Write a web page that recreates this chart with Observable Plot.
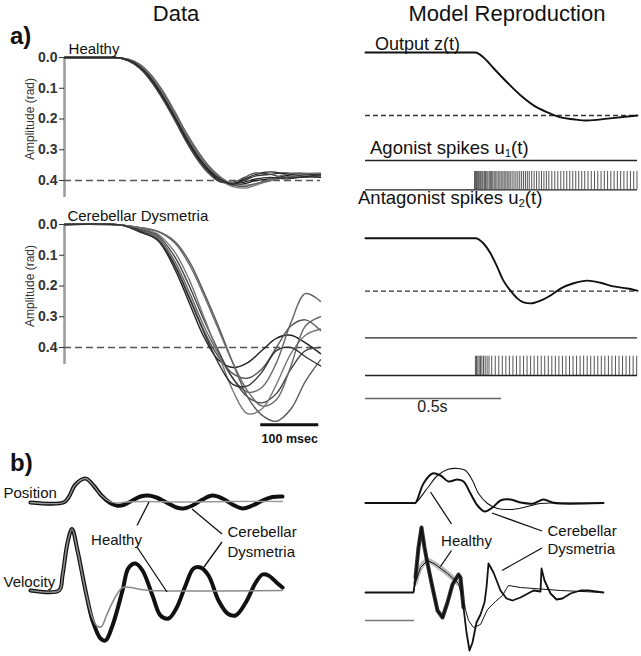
<!DOCTYPE html>
<html><head><meta charset="utf-8">
<script src="https://cdn.jsdelivr.net/npm/d3@7"></script>
<script src="https://cdn.jsdelivr.net/npm/@observablehq/plot@0.6"></script>
<style>
body{margin:0;background:#fff;}
#fig{position:relative;width:641px;height:656px;overflow:hidden;background:#fff;font-family:"Liberation Sans",Arial,sans-serif;color:#111;}
#fig svg{position:absolute;overflow:visible;}
.lbl{position:absolute;white-space:nowrap;line-height:1;}
.lbl sub{font-size:0.62em;vertical-align:-0.28em;line-height:0;}
</style></head><body><div id="fig"></div><script>
// ================= DATA =================
// a) Data panel – healthy (time in ms, amplitude in rad)
const dataTimeH = [0,85,110,130,150,170,190,210,230,250,270,290,310,330,355,380,405,441];
const healthyTraces = [
  [0,0,0.008,0.030,0.070,0.125,0.190,0.260,0.320,0.370,0.400,0.415,0.410,0.400,0.395,0.385,0.380,0.380],
  [0,0,0.010,0.035,0.078,0.135,0.200,0.270,0.330,0.375,0.405,0.410,0.400,0.385,0.380,0.375,0.378,0.382],
  [0,0,0.006,0.025,0.062,0.115,0.180,0.250,0.310,0.360,0.395,0.415,0.420,0.410,0.400,0.390,0.385,0.385],
  [0,0,0.009,0.032,0.074,0.130,0.195,0.265,0.325,0.372,0.402,0.410,0.395,0.380,0.372,0.378,0.385,0.390],
  [0,0,0.007,0.028,0.066,0.120,0.185,0.255,0.315,0.365,0.400,0.420,0.425,0.415,0.400,0.390,0.380,0.375],
  [0,0,0.011,0.036,0.080,0.138,0.205,0.275,0.335,0.380,0.405,0.405,0.390,0.375,0.380,0.390,0.390,0.385],
  [0,0,0.005,0.022,0.058,0.110,0.175,0.245,0.305,0.355,0.390,0.410,0.415,0.410,0.395,0.380,0.375,0.380],
  [0,0,0.008,0.030,0.070,0.127,0.193,0.262,0.322,0.368,0.398,0.412,0.405,0.395,0.390,0.395,0.390,0.380]
];
// a) Data panel – cerebellar dysmetria
const dataTimeC = [0,100,130,160,190,215,240,265,290,315,340,365,390,415,441];
const cerebTraces = [
  [0,0.003,0.025,0.050,0.145,0.255,0.365,0.440,0.465,0.450,0.410,0.370,0.360,0.385,0.420],
  [0,0.003,0.020,0.045,0.130,0.235,0.345,0.430,0.485,0.500,0.470,0.400,0.330,0.310,0.345],
  [0,0.002,0.018,0.040,0.120,0.220,0.330,0.420,0.500,0.545,0.530,0.450,0.320,0.225,0.250],
  [0,0.002,0.015,0.035,0.105,0.200,0.310,0.410,0.500,0.560,0.580,0.550,0.470,0.410,0.400],
  [0,0.002,0.012,0.030,0.090,0.180,0.300,0.420,0.540,0.615,0.600,0.520,0.420,0.360,0.340],
  [0,0.002,0.010,0.022,0.055,0.120,0.220,0.330,0.450,0.560,0.620,0.640,0.600,0.510,0.440],
  [0,0.002,0.010,0.022,0.060,0.130,0.230,0.340,0.450,0.540,0.590,0.570,0.460,0.330,0.300],
  [0,0.003,0.022,0.050,0.135,0.240,0.350,0.450,0.520,0.525,0.480,0.410,0.400,0.430,0.460]
];
const ampTicks = [0, 0.1, 0.2, 0.3, 0.4];
const targetAmp = 0.4;
const dataScaleBar = {t0: 338, t1: 438, label: "100 msec"};

// a) Model reproduction (time in ms, normalised output)
const modelTimeH = [0,404,434,471,522,570,618,669,717,765,816,890,1000];
const modelOutH  = [0,0,0.08,0.25,0.48,0.68,0.84,0.95,1.03,1.06,1.08,1.05,1.00];
const modelTimeC = [0,404,434,460,485,507,533,559,581,607,643,680,717,765,816,864,912,963,1000];
const modelOutC  = [0,0,0.10,0.29,0.55,0.80,0.99,1.14,1.21,1.23,1.18,1.08,0.95,0.85,0.80,0.84,0.91,0.95,0.99];
const agoSpikesH = [];
const antSpikesH = [401,404,408,411,415,418,422,425,429,432,437,441,446,450,455,459,464,468,473,477,
  483,488,494,499,505,510,516,521,527,532,539,546,553,560,567,574,581,588,595,602,
  611,620,629,638,647,656,665,674,685,696,707,718,729,740,751,762,773,784,795,806,
  818,830,842,854,866,878,890,902,914,926,938,950,962,974,986,998];
const agoSpikesC = [];
const antSpikesC = [404,408,413,418,423,428,434,440,447,454,464,477,490,503,516,529,542,555,568,581,
  594,607,620,633,646,659,672,685,698,711,724,737,750,763,776,789,802,815,828,841,
  854,867,880,893,906,919,932,945,958,971,984,997];
const modelScaleBar = {t0: 0, t1: 500, label: "0.5s"};

// b) Data: position & velocity traces ([time, value], arbitrary units)
const posCerebL = [[0,0],[66,0],[76,1.0],[90,3.6],[110,4.8],[126,3.4],[142,1.4],[158,0],[172,-0.6],[186,-0.5],[204,0.4],[220,1.2],[236,1.4],[252,1.0],[272,0],[292,-1.0],[306,-1.2],[324,-0.6],[344,0.6],[364,1.4],[384,0.8],[404,-0.4],[424,-1.2],[444,-0.6],[464,0.4],[484,1.1],[504,1.2]];
const posHealthyL = [[0,0],[66,0],[76,1.0],[90,3.6],[110,4.8],[126,3.4],[142,1.4],[158,0.2],[172,-0.1],[190,0.1],[230,0.2],[300,0.1],[400,0.2],[504,0.2]];
const velCerebL = [[0,0],[57,0],[64,3],[74,9.5],[83,12.3],[94,8],[110,0],[124,-6],[140,-9.6],[150,-10],[164,-7],[184,0],[196,4.5],[210,5.4],[224,4],[244,-1],[260,-5],[276,-5.6],[292,-3.5],[310,1],[326,4.4],[340,4.6],[356,3],[376,-2],[394,-4.6],[410,-5],[430,-2.5],[450,1.5],[464,3.2],[476,3.0],[492,1.6],[504,0.6]];
const velHealthyL = [[0,0],[57,0],[64,3],[74,9.5],[83,12.3],[94,8],[110,0],[124,-5.5],[134,-7.2],[142,-7.2],[152,-5],[166,-2],[184,0.6],[200,0.6],[220,0.2],[240,0],[504,0]];

// b) Model: position & velocity traces
const posCerebR = [[0,0],[96,0],[100,0],[116,3.9],[134,5.9],[150,5.5],[166,4.3],[184,4.7],[196,4.3],[210,1.9],[224,-0.5],[238,-1.7],[254,-0.9],[270,0.5],[290,0.7],[310,0.1],[336,-0.1],[356,0.7],[374,0.1],[390,-0.1],[476,0]];
const posHealthyR = [[0,0],[96,0],[100,0],[124,3],[144,5.5],[164,6.7],[184,6.9],[200,6.5],[214,4.5],[226,1.9],[244,-0.1],[264,-1.1],[290,-1.3],[316,-0.9],[350,-0.1],[390,0],[476,0]];
const velCerebR = [[0,0],[96,0],[100,3],[106,9],[112,13],[118,9],[124,5.8],[134,1],[144,-3.6],[154,-5],[164,-2],[174,1.6],[186,3.6],[190,3],[196,-3],[202,-8],[208,-11.6],[214,-10],[222,-6],[230,-4.4],[238,-2],[242,1],[246,5.8],[256,4],[270,0.4],[282,-1.2],[294,-1.6],[310,-1],[336,0.4],[350,0.2],[352,4.8],[358,2.4],[370,-0.2],[382,-1.4],[394,-1.2],[410,-0.2],[430,0.4],[446,0.4],[476,0]];
const velHealthyR = [[0,0],[96,0],[100,2],[110,5],[124,6.4],[140,5.6],[164,3.8],[186,1.8],[196,-2],[206,-5.6],[216,-7],[230,-6.4],[244,-3.4],[260,-1.8],[274,-0.6],[282,0.8],[286,1.4],[310,1.0],[390,0.4],[476,0]];
const modelVelScale = {t0: 0, t1: 98};

// ================= DRAWING =================
const FONT = '"Liberation Sans", Arial, Helvetica, sans-serif';
const fig = document.getElementById("fig");
function place(svg, left, top) { svg.style.left = left + "px"; svg.style.top = top + "px"; fig.appendChild(svg); }
function plot(o) { return Plot.plot({...o, style: {fontFamily: FONT, background: "transparent", overflow: "visible", color: "#111"}}); }
function label(html, left, top, size, opts = {}) {
  const d = document.createElement("div"); d.className = "lbl"; d.innerHTML = html;
  d.style.left = left + "px"; d.style.top = top + "px"; d.style.fontSize = size + "px";
  if (opts.bold) d.style.fontWeight = "bold";
  if (opts.center) d.style.transform = "translateX(-50%)";
  fig.appendChild(d);
}
const toRows = (times, vals) => vals.map((v, i) => ({t: times[i], v}));
const pairs = (arr) => arr.map(([t, v]) => ({t, v}));

// ---- a) Data: healthy ----
const colH = ["#1a1a1a","#333","#555","#222","#777","#444","#666","#2a2a2a"];
place(plot({
  width: 322, height: 165, marginLeft: 64, marginRight: 2, marginTop: 17, marginBottom: 25,
  x: {domain: [0, 441], axis: null},
  y: {domain: [0, 0.4], reverse: true},
  marks: [
    Plot.ruleX([0], {y1: 0, y2: 0.455, stroke: "#9a9a9a", strokeWidth: 2.5}),
    Plot.axisY(ampTicks, {anchor: "left", tickFormat: d3.format(".1f"), tickSize: 5, tickPadding: 2, fontSize: 14, fontWeight: "bold", color: "#333", label: null}),
    Plot.text(["Amplitude (rad)"], {frameAnchor: "left", y: () => d3.mean(ampTicks), dx: -34, rotate: -90, textAnchor: "middle", fontSize: 12, fill: "#333"}),
    Plot.ruleY([targetAmp], {x1: 0, x2: 441, stroke: "#555", strokeWidth: 1.6, strokeDasharray: "7,4"}),
    ...healthyTraces.map((vals, i) => Plot.line(toRows(dataTimeH, vals), {x: "t", y: "v", stroke: colH[i], strokeWidth: 1.3, curve: "monotone-x"})),
    Plot.text(["Healthy"], {x: () => 7, y: () => -0.013, textAnchor: "start", lineAnchor: "bottom", fontSize: 15, fill: "#111"})
  ]
}), 0, 40);

// ---- a) Data: cerebellar ----
const colC = ["#222","#555","#666","#444","#777","#5a5a5a","#6a6a6a","#333"];
place(plot({
  width: 322, height: 245, marginLeft: 64, marginRight: 2, marginTop: 19, marginBottom: 103,
  x: {domain: [0, 441], axis: null},
  y: {domain: [0, 0.4], reverse: true},
  marks: [
    Plot.ruleX([0], {y1: 0, y2: 0.455, stroke: "#9a9a9a", strokeWidth: 2.5}),
    Plot.axisY(ampTicks, {anchor: "left", tickFormat: d3.format(".1f"), tickSize: 5, tickPadding: 2, fontSize: 14, fontWeight: "bold", color: "#333", label: null}),
    Plot.text(["Amplitude (rad)"], {frameAnchor: "left", y: () => d3.mean(ampTicks), dx: -34, rotate: -90, textAnchor: "middle", fontSize: 12, fill: "#333"}),
    Plot.ruleY([targetAmp], {x1: 0, x2: 441, stroke: "#555", strokeWidth: 1.6, strokeDasharray: "7,4"}),
    ...cerebTraces.map((vals, i) => Plot.line(toRows(dataTimeC, vals), {x: "t", y: "v", stroke: colC[i], strokeWidth: 1.4, curve: "catmull-rom"})),
    Plot.text(["Cerebellar Dysmetria"], {x: () => 5, y: () => -0.013, textAnchor: "start", lineAnchor: "bottom", fontSize: 15, fill: "#111"}),
    Plot.ruleY([dataScaleBar], {x1: "t0", x2: "t1", y: () => 0.651, stroke: "#111", strokeWidth: 3}),
    Plot.text([dataScaleBar], {x: d => (d.t0 + d.t1) / 2, y: () => 0.712, text: "label", lineAnchor: "bottom", fontSize: 12.5, fontWeight: "bold", fill: "#111"})
  ]
}), 0, 205);

// ---- a) Model: output & spikes ----
function modelOutput(times, vals, top, height, mt, mb) {
  place(plot({
    width: 281, height, marginLeft: 5, marginRight: 4, marginTop: mt, marginBottom: mb,
    x: {domain: [0, 1000], axis: null},
    y: {domain: [0, 1], reverse: true, axis: null},
    marks: [
      Plot.ruleY([1], {x1: 0, x2: 1000, stroke: "#333", strokeWidth: 1.3, strokeDasharray: "5,3"}),
      Plot.line(toRows(times, vals), {x: "t", y: "v", stroke: "#111", strokeWidth: 1.9, curve: "monotone-x"})
    ]
  }), 360, top);
}
function spikeTrain(spikes, top, height, mt, mb, extra = []) {
  place(plot({
    width: 281, height, marginLeft: 5, marginRight: 4, marginTop: mt, marginBottom: mb,
    x: {domain: [0, 1000], axis: null},
    y: {domain: [0, 1], axis: null},
    marks: [
      Plot.ruleX(spikes, {x: d => d, y1: 0, y2: 1, stroke: "#555", strokeWidth: 1}),
      Plot.ruleY([0], {x1: 0, x2: 1000, stroke: "#222", strokeWidth: 1.3}),
      ...extra
    ]
  }), 360, top);
}
modelOutput(modelTimeH, modelOutH, 40, 90, 12, 15);
spikeTrain(agoSpikesH, 150, 20, 0, 10);
spikeTrain(antSpikesH, 165, 30, 6, 5.7);
modelOutput(modelTimeC, modelOutC, 225, 80, 12.7, 14.3);
spikeTrain(agoSpikesC, 327, 20, 0, 9.7);
spikeTrain(antSpikesC, 350, 70, 5.7, 45, [
  Plot.ruleY([modelScaleBar], {x1: "t0", x2: "t1", y: () => -1.19, stroke: "#666", strokeWidth: 1.5}),
  Plot.text([modelScaleBar], {x: () => 246, y: () => -1.917, text: "label", lineAnchor: "bottom", fontSize: 16, fill: "#222"})
]);

// ---- b) left: data ----
const posOffL = 17.6;
place(plot({
  width: 290, height: 180, margin: 0, marginRight: 5,
  x: {domain: [-60, 510], axis: null},
  y: {domain: [-12, 24], axis: null},
  marks: [
    Plot.line(pairs(posCerebL), {x: "t", y: d => d.v + posOffL, stroke: "#111", strokeWidth: 4, curve: "catmull-rom"}),
    Plot.line(pairs(posHealthyL), {x: "t", y: d => d.v + posOffL, stroke: "#999", strokeWidth: 1.3, curve: "catmull-rom"}),
    Plot.line(pairs(velCerebL), {x: "t", y: "v", stroke: "#111", strokeWidth: 4, curve: "catmull-rom"}),
    Plot.line(pairs(velHealthyL), {x: "t", y: "v", stroke: "#8a8a8a", strokeWidth: 1.6, curve: "catmull-rom"}),
    Plot.link([
      {x1: 213, y1: 13, x2: 237, y2: 17.7},
      {x1: 213, y1: 8.7, x2: 273, y2: -0.3},
      {x1: 383, y1: 11.3, x2: 323, y2: 16.3},
      {x1: 383, y1: 9.7, x2: 347, y2: 4.7}
    ], {x1: "x1", y1: "y1", x2: "x2", y2: "y2", stroke: "#111", strokeWidth: 1.3}),
    Plot.text(["Position"], {x: () => -54, y: () => 18.5, textAnchor: "start", lineAnchor: "bottom", fontSize: 15, fill: "#111"}),
    Plot.text(["Velocity"], {x: () => -54, y: () => 0.8, textAnchor: "start", lineAnchor: "bottom", fontSize: 15, fill: "#111"}),
    Plot.text(["Healthy"], {x: () => 172, y: () => 9.2, lineAnchor: "bottom", fontSize: 15, fill: "#111"}),
    Plot.text(["Cerebellar", "Dysmetria"], {x: () => 394, y: (d, i) => i === 0 ? 10.7 : 6.8, textAnchor: "start", lineAnchor: "bottom", fontSize: 15, fill: "#111"})
  ]
}), 0, 470);

// ---- b) right: model ----
const posOffR = 17.9;
const seg = (arr, a, b) => pairs(arr).filter(d => d.t >= a && d.t <= b);
place(plot({
  width: 250, height: 196, margin: 0, marginLeft: 5, marginRight: 5,
  x: {domain: [0, 480], axis: null},
  y: {domain: [-12.8, 26.4], axis: null},
  marks: [
    Plot.line(pairs(posHealthyR), {x: "t", y: d => d.v + posOffR, stroke: "#111", strokeWidth: 1.1, curve: "catmull-rom"}),
    Plot.line(pairs(posCerebR), {x: "t", y: d => d.v + posOffR, stroke: "#111", strokeWidth: 2, curve: "catmull-rom"}),
    Plot.line(seg(velHealthyR, 100, 190), {x: "t", y: "v", stroke: "#8c8c8c", strokeWidth: 5, strokeOpacity: 0.6, curve: "catmull-rom"}),
    Plot.line(seg(velCerebR, 100, 196), {x: "t", y: "v", stroke: "#333", strokeWidth: 4, curve: "linear"}),
    Plot.line(pairs(velHealthyR), {x: "t", y: "v", stroke: "#111", strokeWidth: 1, curve: "linear"}),
    Plot.line(pairs(velCerebR), {x: "t", y: "v", stroke: "#111", strokeWidth: 1.8, curve: "linear"}),
    Plot.ruleY([modelVelScale], {x1: "t0", x2: "t1", y: () => -5.6, stroke: "#777", strokeWidth: 1.5}),
    Plot.link([
      {x1: 130, y1: 20.1, x2: 172, y2: 13.7},
      {x1: 172, y1: 8.4, x2: 150, y2: 5.2},
      {x1: 353, y1: 12.3, x2: 253, y2: 15.9},
      {x1: 353, y1: 8.9, x2: 273, y2: 4.4}
    ], {x1: "x1", y1: "y1", x2: "x2", y2: "y2", stroke: "#111", strokeWidth: 1.3}),
    Plot.text(["Healthy"], {x: () => 202, y: () => 9.4, lineAnchor: "bottom", fontSize: 15, fill: "#111"}),
    Plot.text(["Cerebellar", "Dysmetria"], {x: () => 364, y: (d, i) => i === 0 ? 11.3 : 7.7, textAnchor: "start", lineAnchor: "bottom", fontSize: 15, fill: "#111"})
  ]
}), 360, 460);

// ---- HTML titles & labels ----
label("Data", 176, 3.3, 22, {center: true});
label("Model Reproduction", 507, 3.3, 22, {center: true});
label("a)", 10, 23.6, 24, {bold: true});
label("b)", 10, 450.6, 24, {bold: true});
label("Output z(t)", 375, 34.7, 18);
label("Agonist spikes u<sub>1</sub>(t)", 370, 139.3, 18.5);
label("Antagonist spikes u<sub>2</sub>(t)", 358, 189.3, 18.5);
</script></body></html>
